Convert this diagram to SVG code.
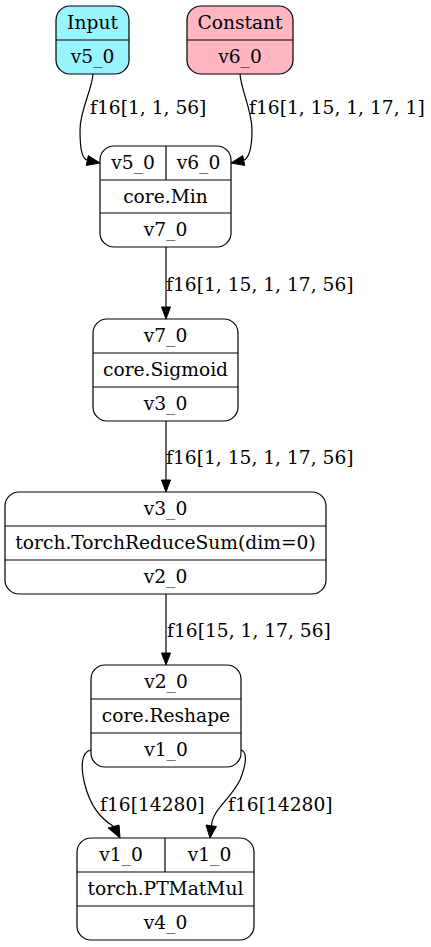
<svg xmlns="http://www.w3.org/2000/svg" width="431" height="947" viewBox="0 0 431 947">
<style>
text{font-family:"DejaVu Serif","Liberation Serif",serif;font-size:18.67px;fill:#000}
.c{text-anchor:middle}
.box{stroke:#000;stroke-width:1.2;fill:#fff}
.ln{stroke:#000;stroke-width:1.2;fill:none}
.ah{fill:#000;stroke:#000;stroke-width:1}
</style>
<rect width="431" height="947" fill="#fff"/>
<g id="connectors">
<path class="ln" d="M93,74 C92,90 80,110 80,130 C80,150 82,158 87.5,160.5"/>
<polygon class="ah" points="100,163 88.3,155.6 86.3,165.4"/>
<path class="ln" d="M240,74 C241,90 252,110 252,130 C252,150 249,158 243.5,160.5"/>
<polygon class="ah" points="231,163 242.7,155.6 244.7,165.4"/>
<path class="ln" d="M166,247 L166,307"/>
<polygon class="ah" points="166,319 161.5,307 170.5,307"/>
<path class="ln" d="M166,421 L166,480"/>
<polygon class="ah" points="166,492 161.5,480 170.5,480"/>
<path class="ln" d="M166,594 L166,653"/>
<polygon class="ah" points="166,665 161.5,653 170.5,653"/>
<path class="ln" d="M91,750 C80,752 81,770 85,785 C90,805 100,818 113,826"/>
<polygon class="ah" points="120,838 108,828 119,825"/>
<path class="ln" d="M241,750 C248,752 246,765 240,780 C230,800 212,810 211.5,826"/>
<polygon class="ah" points="210,838 206,825 216.5,826.5"/>
<text x="90" y="114">f16[1, 1, 56]</text>
<text x="249" y="114">f16[1, 15, 1, 17, 1]</text>
<text x="166" y="291">f16[1, 15, 1, 17, 56]</text>
<text x="166" y="464">f16[1, 15, 1, 17, 56]</text>
<text x="167" y="637">f16[15, 1, 17, 56]</text>
<text x="100" y="811">f16[14280]</text>
<text x="228" y="811">f16[14280]</text>
</g>
<g id="input">
<rect class="box" x="56" y="6" width="73" height="68" rx="14" style="fill:#98f5ff"/>
<line class="ln" x1="56" y1="40" x2="129" y2="40"/>
<text class="c" x="92.5" y="29">Input</text>
<text class="c" x="92.5" y="63">v5_0</text>
</g>
<g id="constant">
<rect class="box" x="187" y="6" width="106" height="68" rx="14" style="fill:#ffb6c1"/>
<line class="ln" x1="187" y1="40" x2="293" y2="40"/>
<text class="c" x="240" y="29">Constant</text>
<text class="c" x="240" y="63">v6_0</text>
</g>
<g id="min">
<rect class="box" x="100" y="146" width="131" height="101" rx="14"/>
<line class="ln" x1="166" y1="146" x2="166" y2="180"/>
<line class="ln" x1="100" y1="180" x2="231" y2="180"/>
<line class="ln" x1="100" y1="213" x2="231" y2="213"/>
<text class="c" x="133" y="169">v5_0</text>
<text class="c" x="198.5" y="169">v6_0</text>
<text class="c" x="165.5" y="203">core.Min</text>
<text class="c" x="165.5" y="236">v7_0</text>
</g>
<g id="sigmoid">
<rect class="box" x="93" y="319" width="145" height="102" rx="14"/>
<line class="ln" x1="93" y1="353" x2="238" y2="353"/>
<line class="ln" x1="93" y1="387" x2="238" y2="387"/>
<text class="c" x="165.5" y="342">v7_0</text>
<text class="c" x="165.5" y="376">core.Sigmoid</text>
<text class="c" x="165.5" y="410">v3_0</text>
</g>
<g id="reducesum">
<rect class="box" x="5" y="492" width="321" height="102" rx="14"/>
<line class="ln" x1="5" y1="526" x2="326" y2="526"/>
<line class="ln" x1="5" y1="560" x2="326" y2="560"/>
<text class="c" x="165.5" y="515">v3_0</text>
<text class="c" x="165.5" y="549">torch.TorchReduceSum(dim=0)</text>
<text class="c" x="165.5" y="583">v2_0</text>
</g>
<g id="reshape">
<rect class="box" x="91" y="665" width="150" height="102" rx="14"/>
<line class="ln" x1="91" y1="699" x2="241" y2="699"/>
<line class="ln" x1="91" y1="733" x2="241" y2="733"/>
<text class="c" x="166" y="688">v2_0</text>
<text class="c" x="166" y="722">core.Reshape</text>
<text class="c" x="166" y="756">v1_0</text>
</g>
<g id="matmul">
<rect class="box" x="77" y="838" width="177" height="102" rx="14"/>
<line class="ln" x1="165" y1="838" x2="165" y2="872"/>
<line class="ln" x1="77" y1="872" x2="254" y2="872"/>
<line class="ln" x1="77" y1="906" x2="254" y2="906"/>
<text class="c" x="121" y="861">v1_0</text>
<text class="c" x="209.5" y="861">v1_0</text>
<text class="c" x="165.5" y="895">torch.PTMatMul</text>
<text class="c" x="165.5" y="929">v4_0</text>
</g>
</svg>
